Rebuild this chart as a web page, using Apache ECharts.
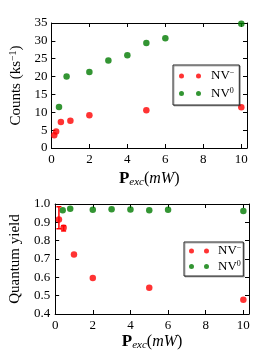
<!DOCTYPE html>
<html><head><meta charset="utf-8">
<script src="https://cdn.jsdelivr.net/npm/echarts@6/dist/echarts.min.js"></script>
<style>html,body{margin:0;padding:0;background:#fff}#c{width:273px;height:356px}</style>
</head><body><div id="c"></div>
<script>
// Top panel: counts (ks^-1) vs excitation power (mW)
const countsNVmX = [0.15, 0.25, 0.5, 1, 2, 5, 10];
const countsNVmY = [3.6, 4.6, 7.3, 7.6, 9.2, 10.6, 11.4];
const countsNV0X = [0.4, 0.8, 2, 3, 4, 5, 6, 10];
const countsNV0Y = [11.5, 20.0, 21.3, 24.5, 26.0, 29.4, 30.7, 34.8];
// Bottom panel: quantum yield
const qyNVmX = [0.2, 0.45, 1, 2, 5, 10];
const qyNVmY = [0.915, 0.87, 0.725, 0.596, 0.543, 0.478];
const qyErrX = [0.2, 0.45];
const qyErrLow = [0.865, 0.853];
const qyErrHigh = [0.985, 0.882];
const qyNV0X = [0.4, 0.8, 2, 3, 4, 5, 6, 10];
const qyNV0Y = [0.966, 0.974, 0.968, 0.972, 0.970, 0.966, 0.968, 0.962];
const xTicks = [0, 2, 4, 6, 8, 10];
const countsTicks = [0, 5, 10, 15, 20, 25, 30, 35];
const qyTicks = [0.4, 0.5, 0.6, 0.7, 0.8, 0.9, 1.0];

const RED = '#ff0000', GREEN = '#007a00';
const FF = '"Liberation Serif", "DejaVu Serif", serif';
const zip = (a, b) => a.map((v, i) => [v, b[i]]);

function icon2(sp) {
  const c2 = 2.5 + sp;
  return 'path://M2.5,0A2.5,2.5,0,1,1,2.5,5A2.5,2.5,0,1,1,2.5,0Z' +
    'M' + c2 + ',0A2.5,2.5,0,1,1,' + c2 + ',5A2.5,2.5,0,1,1,' + c2 + ',0Z';
}

function xAx(gi, main, gap) {
  return {
    type: 'value', gridIndex: gi, position: main ? 'bottom' : 'top',
    min: 0, max: 10.3, interval: 2,
    axisLine: {show: true, onZero: false, lineStyle: {color: '#000', width: 1}},
    axisTick: {show: true, inside: true, length: 4, lineStyle: {color: '#000'}},
    axisLabel: {show: main, margin: 5, color: '#000', fontFamily: FF, fontSize: 13,
      formatter: v => (xTicks.indexOf(Math.round(v * 1000) / 1000) >= 0 ? String(v) : '')},
    splitLine: {show: false},
    name: main ? '{b|P}{s|exc}{n|(}{i|mW}{n|)}' : '',
    nameLocation: 'middle', nameGap: gap,
    nameTextStyle: {color: '#000', rich: {
      b: {fontFamily: FF, fontSize: 17, fontWeight: 'bold', lineHeight: 18, color: '#000'},
      s: {fontFamily: FF, fontSize: 11, fontStyle: 'italic', lineHeight: 12, verticalAlign: 'bottom', color: '#000'},
      n: {fontFamily: FF, fontSize: 16, lineHeight: 18, color: '#000'},
      i: {fontFamily: FF, fontSize: 16, fontStyle: 'italic', lineHeight: 18, color: '#000'}
    }}
  };
}
function yAx(gi, main, min, max, interval, ticks, name, gap, margin) {
  return {
    type: 'value', gridIndex: gi, position: main ? 'left' : 'right',
    min: min, max: max, interval: interval,
    axisLine: {show: true, onZero: false, lineStyle: {color: '#000', width: 1}},
    axisTick: {show: true, inside: true, length: 4, lineStyle: {color: '#000'}},
    axisLabel: {show: main, margin: margin, color: '#000', fontFamily: FF, fontSize: 13,
      formatter: v => { const r = Math.round(v * 1000) / 1000; return ticks.indexOf(r) >= 0 ? (interval < 1 ? r.toFixed(1) : String(r)) : ''; }},
    splitLine: {show: false},
    name: main ? name : '', nameLocation: 'middle', nameGap: gap, nameRotate: 90,
    nameTextStyle: {color: '#000', fontFamily: FF, fontSize: 15, rich: {
      n: {fontFamily: FF, fontSize: 15, lineHeight: 16, color: '#000'},
      s: {fontFamily: FF, fontSize: 10, lineHeight: 10, verticalAlign: 'top', color: '#000'}
    }}
  };
}
function legendFor(left, top, padding, gap, sp, tpad) {
  return {
    orient: 'vertical', left: left, top: top, data: ['NVm', 'NV0'],
    icon: icon2(sp), itemWidth: sp + 5, itemHeight: 5, itemGap: gap, padding: padding,
    borderColor: '#222', borderWidth: 1, backgroundColor: '#fff', borderRadius: 0,
    shadowColor: 'rgba(0,0,0,0.3)', shadowOffsetX: 1, shadowOffsetY: 1, shadowBlur: 0,
    selectedMode: false,
    formatter: n => n === 'NVm' ? '{a|NV}{s|\u2212}' : '{a|NV}{s|0}',
    textStyle: {color: '#000', padding: [0, 0, 0, tpad], rich: {
      a: {fontFamily: FF, fontSize: 13, lineHeight: 14, color: '#000'},
      s: {fontFamily: FF, fontSize: 8, lineHeight: 9, verticalAlign: 'top', color: '#000'}
    }}
  };
}

const errItem = (params, api) => {
  const x = api.value(0), lo = api.value(1), hi = api.value(2);
  const p1 = api.coord([x, lo]), p2 = api.coord([x, hi]);
  const style = {stroke: RED, lineWidth: 1.5};
  return {type: 'group', children: [
    {type: 'line', shape: {x1: p1[0], y1: p1[1], x2: p2[0], y2: p2[1]}, style: style},
    {type: 'line', shape: {x1: p1[0] - 2.5, y1: p1[1], x2: p1[0] + 2.5, y2: p1[1]}, style: style},
    {type: 'line', shape: {x1: p2[0] - 2.5, y1: p2[1], x2: p2[0] + 2.5, y2: p2[1]}, style: style}
  ]};
};

const chart = echarts.init(document.getElementById('c'), null, {renderer: 'canvas'});
chart.setOption({
  backgroundColor: '#fff',
  animation: false,
  grid: [
    {left: 46, top: 23, width: 201, height: 125},
    {left: 50, top: 204, width: 199, height: 110}
  ],
  xAxis: [xAx(0, true, 22), xAx(0, false, 0), xAx(1, true, 15), xAx(1, false, 0)],
  yAxis: [
    yAx(0, true, 0, 35, 5, countsTicks, '{n|Counts (ks}{s|\u22121}{n|)}', 21, 4),
    yAx(0, false, 0, 35, 5, countsTicks, '', 0, 4),
    yAx(1, true, 0.4, 1.0, 0.1, qyTicks, '{n|Quantum yield}', 22, 5),
    yAx(1, false, 0.4, 1.0, 0.1, qyTicks, '', 0, 5)
  ],
  legend: [
    legendFor(173, 65, [4, 5, 5, 6], 4, 17, 5),
    legendFor(184, 242, [2, 2, 3, 5], 2, 15, 4)
  ],
  series: [
    {name: 'NVm', type: 'scatter', xAxisIndex: 0, yAxisIndex: 0, symbolSize: 6.5, clip: false,
      itemStyle: {color: RED}, data: zip(countsNVmX, countsNVmY)},
    {name: 'NV0', type: 'scatter', xAxisIndex: 0, yAxisIndex: 0, symbolSize: 6.5, clip: false,
      itemStyle: {color: GREEN}, data: zip(countsNV0X, countsNV0Y)},
    {name: 'err', type: 'custom', xAxisIndex: 2, yAxisIndex: 2, renderItem: errItem, clip: false,
      data: qyErrX.map((x, i) => [x, qyErrLow[i], qyErrHigh[i]]), z: 3},
    {name: 'NVm', type: 'scatter', xAxisIndex: 2, yAxisIndex: 2, symbolSize: 6.5, clip: false,
      itemStyle: {color: RED}, data: zip(qyNVmX, qyNVmY), z: 4},
    {name: 'NV0', type: 'scatter', xAxisIndex: 2, yAxisIndex: 2, symbolSize: 6.5, clip: false,
      itemStyle: {color: GREEN}, data: zip(qyNV0X, qyNV0Y)}
  ]
});
</script></body></html>
